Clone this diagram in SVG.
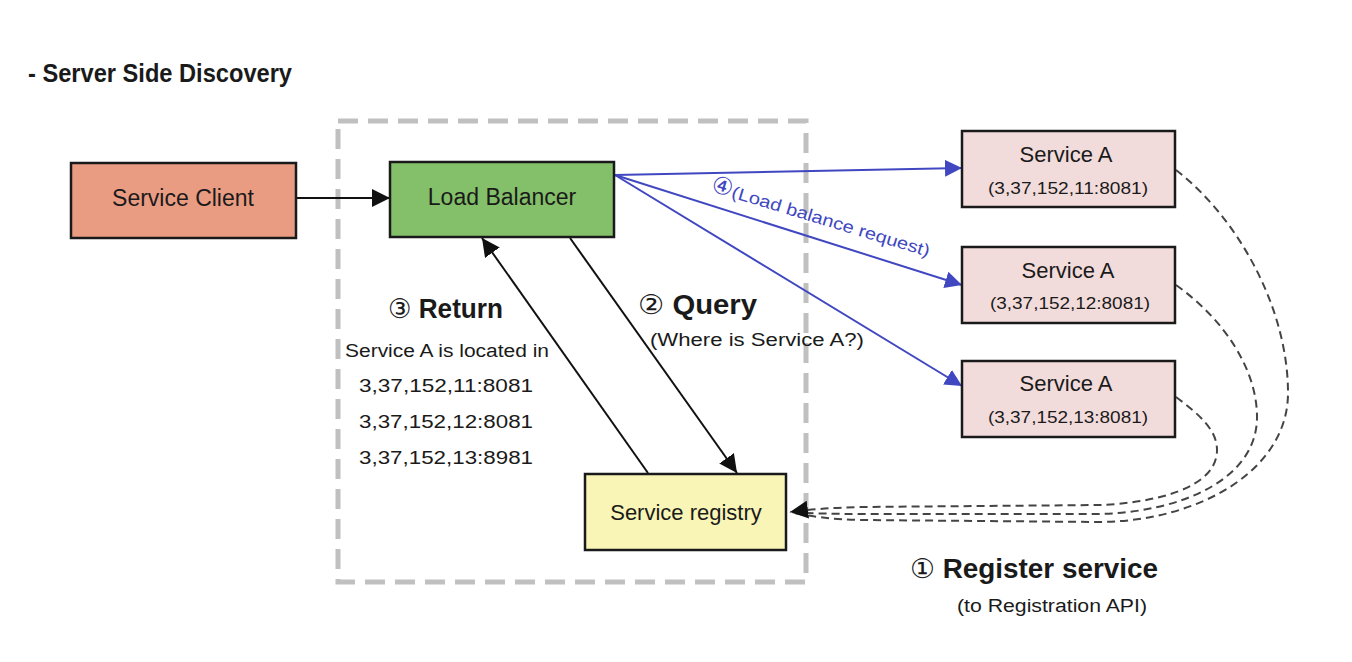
<svg xmlns="http://www.w3.org/2000/svg" width="1352" height="662" viewBox="0 0 1352 662">
<style>
text{font-family:"Liberation Sans","DejaVu Sans","Noto Sans CJK KR",sans-serif;fill:#1a1a1a}
.box{stroke:#1a1a1a;stroke-width:2.5}
.lbl{font-size:23px;text-anchor:middle}
.sa{font-size:22px;text-anchor:middle}
.ip{font-size:16px;text-anchor:middle}
.big{font-size:27px;font-weight:bold}
.num{font-family:"DejaVu Sans",sans-serif;font-weight:normal}
.note{font-size:18px;text-anchor:middle}
.blk{stroke:#111;stroke-width:2;fill:none}
.blu{stroke:#4047c0;stroke-width:2;fill:none}
.reg{stroke:#444;stroke-width:2;fill:none;stroke-dasharray:8 5}
</style>
<defs>
<marker id="abk" viewBox="0 0 10 10" refX="10" refY="5" markerWidth="18" markerHeight="18" markerUnits="userSpaceOnUse" orient="auto"><path d="M0,0 L10,5 L0,10 z" fill="#111"/></marker>
<marker id="abl" viewBox="0 0 10 10" refX="10" refY="5" markerWidth="17" markerHeight="17" markerUnits="userSpaceOnUse" orient="auto"><path d="M0,0 L10,5 L0,10 z" fill="#4047c0"/></marker>
</defs>
<rect width="1352" height="662" fill="#fff"/>
<text x="28" y="82" font-size="26" font-weight="bold" textLength="264" lengthAdjust="spacingAndGlyphs">- Server Side Discovery</text>
<rect id="boundary" x="338" y="121" width="468" height="461" fill="none" stroke="#c0c0c0" stroke-width="5" stroke-dasharray="20 10"/>
<g id="connectors">
<path class="blk" d="M296,198 L390,198" marker-end="url(#abk)"/>
<path class="blk" d="M570,238 L737,473" marker-end="url(#abk)"/>
<path class="blk" d="M648,473 L482,238" marker-end="url(#abk)"/>
<path class="blu" d="M615,175 L962,168" marker-end="url(#abl)"/>
<path class="blu" d="M615,175 L962,285" marker-end="url(#abl)"/>
<path class="blu" d="M615,175 L962,386" marker-end="url(#abl)"/>
<path class="reg" d="M1176,170 C1240,220 1288,310 1288,393 C1288,470 1200,521 1100,522 L860,520 Q820,519 790,512"/>
<path class="reg" d="M1176,285 C1225,320 1257,370 1257,417 C1257,480 1180,512 1100,514 L860,514 Q820,514 790,512"/>
<path class="reg" d="M1176,397 C1200,415 1217,430 1217,450 C1217,490 1150,503 1100,505 L860,507 Q820,508 790,512" marker-end="url(#abk)"/>
</g>
<g id="client"><rect class="box" x="71" y="163" width="225" height="75" fill="#ea9c83"/><text class="lbl" x="183" y="206">Service Client</text></g>
<g id="lb"><rect class="box" x="390" y="162" width="224" height="75" fill="#83c069"/><text class="lbl" x="502" y="205">Load Balancer</text></g>
<g id="sa1"><rect class="box" x="962" y="131" width="213" height="76" fill="#f2dcdb"/><text class="sa" x="1066" y="162">Service A</text><text class="ip" x="1068" y="194" textLength="160" lengthAdjust="spacingAndGlyphs">(3,37,152,11:8081)</text></g>
<g id="sa2"><rect class="box" x="962" y="247" width="213" height="76" fill="#f2dcdb"/><text class="sa" x="1068" y="278">Service A</text><text class="ip" x="1070" y="309" textLength="160" lengthAdjust="spacingAndGlyphs">(3,37,152,12:8081)</text></g>
<g id="sa3"><rect class="box" x="962" y="361" width="213" height="76" fill="#f2dcdb"/><text class="sa" x="1066" y="391">Service A</text><text class="ip" x="1068" y="423" textLength="160" lengthAdjust="spacingAndGlyphs">(3,37,152,13:8081)</text></g>
<g id="registry"><rect class="box" x="585" y="474" width="201" height="76" fill="#f9f5b6"/><text class="sa" x="686" y="520">Service registry</text></g>
<g id="labels">
<text x="710" y="191" font-size="17" style="fill:#4047c0" transform="rotate(16.8 710 191)"><tspan class="num" font-size="24" style="fill:#4047c0">④</tspan><tspan style="fill:#4047c0" textLength="206" lengthAdjust="spacingAndGlyphs">(Load balance request)</tspan></text>
<text class="big" x="388" y="318" textLength="115" lengthAdjust="spacingAndGlyphs"><tspan class="num">③</tspan> Return</text>
<text class="note" x="447" y="357" textLength="204" lengthAdjust="spacingAndGlyphs">Service A is located in</text>
<text class="note" x="446" y="392" textLength="174" lengthAdjust="spacingAndGlyphs">3,37,152,11:8081</text>
<text class="note" x="446" y="428" textLength="174" lengthAdjust="spacingAndGlyphs">3,37,152,12:8081</text>
<text class="note" x="446" y="464" textLength="174" lengthAdjust="spacingAndGlyphs">3,37,152,13:8981</text>
<text class="big" x="638" y="314" textLength="119" lengthAdjust="spacingAndGlyphs"><tspan class="num">②</tspan> Query</text>
<text class="note" x="757" y="346" textLength="214" lengthAdjust="spacingAndGlyphs">(Where is Service A?)</text>
<text class="big" x="910" y="578" textLength="248" lengthAdjust="spacingAndGlyphs"><tspan class="num">①</tspan> Register service</text>
<text class="note" x="1052" y="612" textLength="190" lengthAdjust="spacingAndGlyphs">(to Registration API)</text>
</g>
</svg>
